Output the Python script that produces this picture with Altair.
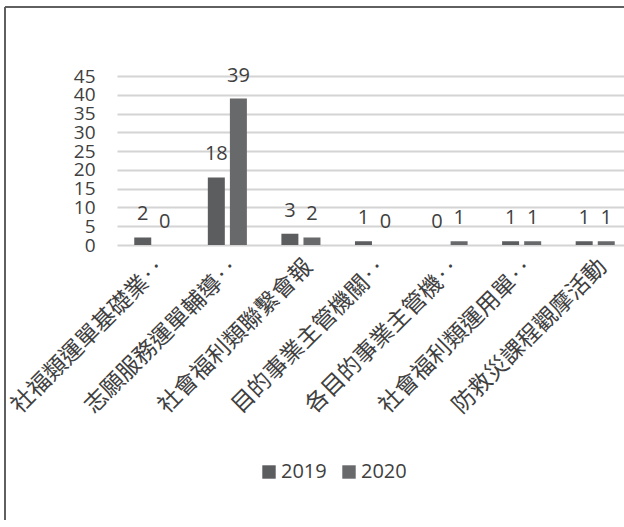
import altair as alt
import pandas as pd

categories = ["社福類運單基礎業‥", "志願服務運單輔導‥", "社會福利類聯繫會報", "目的事業主管機關‥",
              "各目的事業主管機‥", "社會福利類運用單‥", "防救災課程觀摩活動"]
values_2019 = [2, 18, 3, 1, 0, 1, 1]
values_2020 = [0, 39, 2, 0, 1, 1, 1]
years = ["2019", "2020"]
y_ticks = [0, 5, 10, 15, 20, 25, 30, 35, 40, 45]

rows = []
for c, a, b in zip(categories, values_2019, values_2020):
    rows.append({"cat": c, "year": "2019", "value": a})
    rows.append({"cat": c, "year": "2020", "value": b})
df = pd.DataFrame(rows)

FONT_CJK = "Noto Sans CJK TC"
FONT_NUM = "Open Sans"
TXT = "#404040"

x_enc = alt.X("cat:N", sort=categories, title=None,
              scale=alt.Scale(paddingInner=0.4, paddingOuter=0.2, range=[0, 515]),
              axis=alt.Axis(labelAngle=-45, labelFontSize=23, labelFont=FONT_CJK,
                            labelColor=TXT, ticks=False, domain=False,
                            labelPadding=10, labelLimit=500, labelOverlap=False))
xo_enc = alt.XOffset("year:N", sort=years,
                     scale=alt.Scale(paddingInner=0.23, paddingOuter=0.115))
y_enc = alt.Y("value:Q", title=None,
              scale=alt.Scale(domain=[0, 45], nice=False),
              axis=alt.Axis(values=y_ticks, labelFontSize=19, labelFont=FONT_NUM,
                            labelColor=TXT, ticks=False, domain=False, grid=True,
                            gridColor="#d4d4d4", gridWidth=2, labelPadding=22,
                            labelOverlap=False, labelBaseline="middle"))
color_enc = alt.Color("year:N", sort=years,
                      scale=alt.Scale(domain=years, range=["#5c5d5f", "#68696b"]),
                      legend=alt.Legend(title=None, orient="none", direction="horizontal",
                                        legendX=142, legendY=386, symbolType="square",
                                        symbolSize=180, labelFontSize=20, labelFont=FONT_NUM,
                                        labelColor=TXT, columnPadding=12, symbolStrokeWidth=0,
                                        labelOffset=2))

base = alt.Chart(df)
bars = base.mark_bar().encode(x=x_enc, xOffset=xo_enc, y=y_enc, color=color_enc)
labels = base.mark_text(dy=-23, baseline="middle", fontSize=20, font=FONT_NUM, color=TXT).encode(
    x=x_enc, xOffset=xo_enc, y=y_enc, text="value:Q")

frame_left = alt.Chart(df).mark_rule(color="#606060", strokeWidth=2).encode(
    x=alt.value(-112), y=alt.value(-69), y2=alt.value(451))
frame_top = alt.Chart(df).mark_rule(color="#606060", strokeWidth=2).encode(
    x=alt.value(-112), x2=alt.value(507), y=alt.value(-69))

chart = alt.layer(bars, labels, frame_left, frame_top).properties(
    width=507, height=169,
    autosize=alt.AutoSizeParams(type="none"),
    padding={"left": 117, "top": 76, "right": 0, "bottom": 275},
    background="white",
).configure_view(stroke=None)

chart.save("out.html", embed_options={"renderer": "svg", "actions": False})
